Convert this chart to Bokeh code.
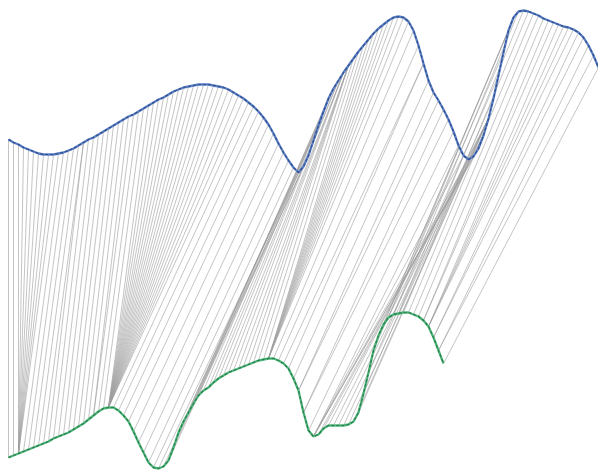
import numpy as np
from bokeh.plotting import figure
from bokeh.models import Range1d
from bokeh.embed import file_html
from bokeh.resources import INLINE

# Query series (drawn on top) and reference series (drawn below), one sample per time step
upper_series = [32, 29, 27, 24, 22, 20, 18, 17, 17, 17,
                18, 19, 21, 23, 26, 29, 32, 34, 37, 40,
                43, 46, 49, 52, 55, 57, 60, 63, 66, 69,
                72, 74, 77, 80, 82, 84, 85, 86, 87, 87,
                87, 86, 85, 84, 82, 79, 76, 73, 69, 65,
                60, 54, 47, 38, 28, 19, 11, 4, -1, 5,
                16, 31, 46, 60, 73, 83, 91, 99, 106, 113,
                120, 126, 132, 138, 143, 147, 151, 154, 155, 154,
                150, 141, 126, 108, 91, 79, 71, 62, 52, 40,
                26, 16, 12, 15, 23, 36, 53, 73, 96, 119,
                141, 154, 160, 161, 160, 158, 156, 153, 151, 149,
                147, 145, 144, 142, 139, 134, 126, 116, 104]
lower_series = [14, 16, 18, 20, 22, 24, 26, 28, 30, 33,
                35, 37, 39, 42, 45, 48, 52, 56, 60, 63,
                64, 64, 61, 56, 50, 40, 29, 19, 9, 4,
                3, 5, 11, 24, 39, 50, 59, 68, 76, 81,
                84, 89, 93, 96, 99, 101, 103, 105, 107, 109,
                111, 112, 113, 113, 111, 108, 103, 93, 81, 59,
                41, 35, 37, 43, 46, 46, 46, 46, 47, 50,
                59, 78, 99, 121, 136, 147, 154, 157, 158, 159,
                159, 157, 155, 151, 145, 134, 121, 108]
upper_offset = 300

a = np.array(upper_series, dtype=float)
b = np.array(lower_series, dtype=float)
n, m = len(a), len(b)

# Dynamic time warping: accumulated cost and optimal path
D = np.full((n + 1, m + 1), np.inf)
D[0, 0] = 0.0
for i in range(1, n + 1):
    for j in range(1, m + 1):
        c = abs(a[i - 1] - b[j - 1])
        D[i, j] = c + min(D[i - 1, j], D[i, j - 1], D[i - 1, j - 1])

path = []
i, j = n, m
while i > 0 and j > 0:
    path.append((i - 1, j - 1))
    steps = [D[i - 1, j - 1], D[i - 1, j], D[i, j - 1]]
    k = int(np.argmin(steps))
    if k == 0:
        i, j = i - 1, j - 1
    elif k == 1:
        i -= 1
    else:
        j -= 1
path.reverse()

p = figure(width=598, height=471, output_backend="svg", toolbar_location=None,
           x_range=Range1d(-1.6, 118.0), y_range=Range1d(0, 471),
           min_border=0, background_fill_color="white", border_fill_color="white")
p.axis.visible = False
p.grid.visible = False
p.outline_line_color = None

# Alignment links between matched samples
xs = [[pi, pj] for pi, pj in path]
ys = [[a[pi] + upper_offset, b[pj]] for pi, pj in path]
p.multi_line(xs, ys, line_color="#a0a0a0", line_alpha=0.62, line_width=1)

ta = np.arange(n)
tb = np.arange(m)
p.line(ta, a + upper_offset, line_color="#5b7fc4", line_width=2.3)
p.line(ta, a + upper_offset, line_color="#2f4f8f", line_width=1.2, line_dash="3 2")
p.line(tb, b, line_color="#4db57a", line_width=2.3)
p.line(tb, b, line_color="#2a7f4c", line_width=1.2, line_dash="3 2")

open("out.html", "w").write(file_html(p, INLINE))
